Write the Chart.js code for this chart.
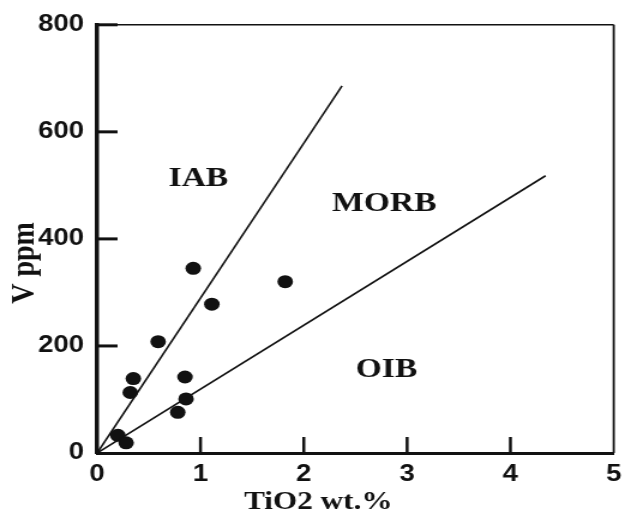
<!DOCTYPE html>
<html>
<head>
<meta charset="utf-8">
<script src="https://cdn.jsdelivr.net/npm/chart.js@4"></script>
<style>
  html, body { margin: 0; padding: 0; background: #fff; }
</style>
</head>
<body>
<!-- the scanned figure is a little wider than tall, so the canvas is stretched sideways -->
<canvas id="chart" width="526" height="520" style="display:block;width:631px;height:520px"></canvas>
<script>
// samples
const tio2 = [0.93, 1.82, 1.11, 0.59, 0.35, 0.32, 0.85, 0.86, 0.78, 0.20, 0.28]
const vppm = [345, 320, 278, 208, 139, 113, 142, 101, 76, 33, 19]

// discrimination lines (start at the origin)
const iabMorbX = [0, 2.37]
const iabMorbY = [0, 686]
const morbOibX = [0, 4.34]
const morbOibY = [0, 518]

// field names
const fields = ["IAB", "MORB", "OIB"]
const fieldX = [0.98, 2.78, 2.8]
const fieldY = [512, 466, 155]

const xTicks = [0, 1, 2, 3, 4, 5]
const yTicks = [0, 200, 400, 600, 800]

const ink = "#111"

const toPoints = (xs, ys) => xs.map((x, i) => ({x: x, y: ys[i]}))

const frame = {
  id: "frame",
  afterDraw(chart) {
    const {ctx, chartArea: a, scales: {x, y}} = chart
    const line = (x1, y1, x2, y2) => {
      ctx.beginPath()
      ctx.moveTo(x1, y1)
      ctx.lineTo(x2, y2)
      ctx.stroke()
    }
    ctx.save()
    ctx.strokeStyle = ink
    ctx.lineWidth = 1.5
    line(a.left, a.top, a.right, a.top)
    ctx.lineWidth = 1.8
    line(a.right, a.top, a.right, a.bottom)

    // ticks point inwards
    ctx.lineWidth = 2.5
    xTicks.filter(v => v > 0 && v < 5).forEach(v => {
      const px = x.getPixelForValue(v)
      line(px, a.bottom, px, a.bottom - 16)
    })
    ctx.lineWidth = 3
    yTicks.filter(v => v > 0).forEach(v => {
      const py = y.getPixelForValue(v)
      line(a.left, py, a.left + 17, py)
    })

    ctx.fillStyle = ink
    ctx.textAlign = "center"
    ctx.textBaseline = "middle"
    ctx.font = "bold 28px 'Liberation Serif'"
    fields.forEach((f, i) => {
      ctx.fillText(f, x.getPixelForValue(fieldX[i]), y.getPixelForValue(fieldY[i]))
    })

    ctx.font = "bold 26px 'Liberation Serif'"
    ctx.fillText("TiO2 wt.%", (a.left + a.right) / 2 - 31, 502)

    ctx.font = "bold 28px 'Liberation Serif'"
    ctx.translate(21, (a.top + a.bottom) / 2 + 24)
    ctx.rotate(-Math.PI / 2)
    ctx.fillText("V ppm", 0, 0)
    ctx.restore()
  }
}

const tickFont = {family: "'Liberation Sans'", size: 23, weight: "bold"}

new Chart(document.getElementById("chart"), {
  type: "scatter",
  data: {
    datasets: [
      {
        data: toPoints(tio2, vppm),
        backgroundColor: ink,
        borderWidth: 0,
        pointRadius: 6.5
      },
      {
        data: toPoints(iabMorbX, iabMorbY),
        showLine: true,
        borderColor: ink,
        borderWidth: 1.6,
        pointRadius: 0
      },
      {
        data: toPoints(morbOibX, morbOibY),
        showLine: true,
        borderColor: ink,
        borderWidth: 1.6,
        pointRadius: 0
      }
    ]
  },
  options: {
    responsive: false,
    animation: false,
    events: [],
    layout: {padding: {top: 19, right: 8, left: 0, bottom: 0}},
    plugins: {
      legend: {display: false},
      tooltip: {enabled: false}
    },
    scales: {
      x: {
        type: "linear",
        min: 0,
        max: 5,
        afterBuildTicks: s => { s.ticks = xTicks.map(v => ({value: v})) },
        afterFit: s => { s.height = 67 },
        grid: {display: false, drawTicks: false},
        border: {display: true, width: 3, color: ink},
        ticks: {padding: 8, color: ink, font: tickFont}
      },
      y: {
        type: "linear",
        min: 0,
        max: 800,
        afterBuildTicks: s => { s.ticks = yTicks.map(v => ({value: v})) },
        afterFit: s => { s.width = 81 },
        grid: {display: false, drawTicks: false},
        border: {display: true, width: 3.5, color: ink},
        ticks: {padding: 11, color: ink, font: tickFont}
      }
    }
  },
  plugins: [frame]
})
</script>
</body>
</html>
